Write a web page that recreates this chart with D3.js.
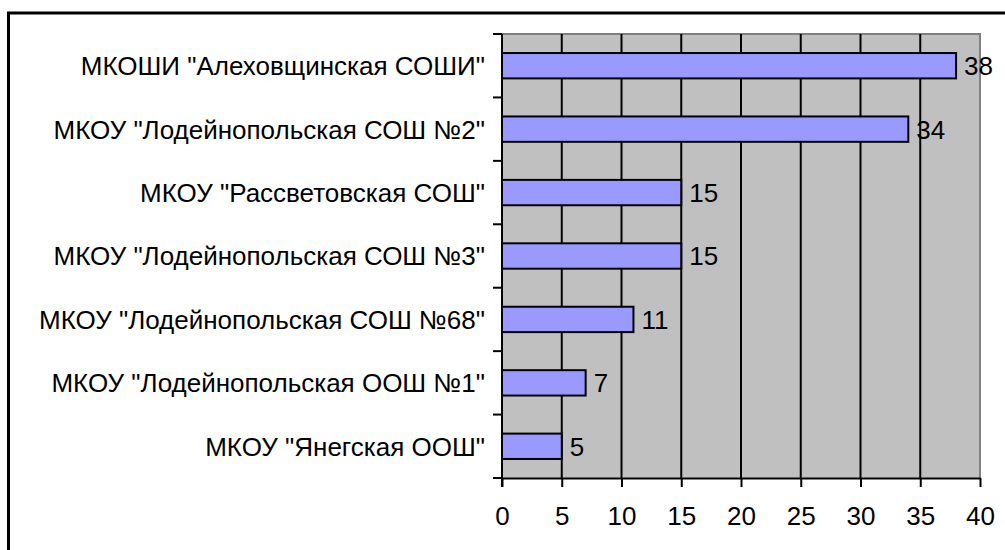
<!DOCTYPE html>
<html><head><meta charset="utf-8">
<script src="https://cdn.jsdelivr.net/npm/d3@7"></script>
<style>
html,body{margin:0;padding:0;background:#fff;}
svg{display:block;}
text{font-family:"Liberation Sans",Arial,sans-serif;fill:#000;}
</style></head>
<body>
<svg id="c" width="1005" height="550"></svg>
<script>
const categories = [
  'МКОШИ "Алеховщинская СОШИ"',
  'МКОУ "Лодейнопольская СОШ №2"',
  'МКОУ "Рассветовская СОШ"',
  'МКОУ "Лодейнопольская СОШ №3"',
  'МКОУ "Лодейнопольская СОШ №68"',
  'МКОУ "Лодейнопольская ООШ №1"',
  'МКОУ "Янегская ООШ"'
];
const values = [38, 34, 15, 15, 11, 7, 5];
const xTicks = [0, 5, 10, 15, 20, 25, 30, 35, 40];

const svg = d3.select("#c");
const L = 502, R = 980, T = 34, B = 478;
const fs = 26;

// outer frame
svg.append("rect").attr("x", 8.5).attr("y", 13).attr("width", 1010).attr("height", 560)
  .attr("fill", "none").attr("stroke", "#000").attr("stroke-width", 3);

const x = d3.scaleLinear().domain([0, 40]).range([L, R]);
const y = d3.scaleBand().domain(categories).range([T, B]).paddingInner(0.6).paddingOuter(0.3);
const yb = d3.scaleBand().domain(categories).range([T, B]);

// plot background
svg.append("rect").attr("x", L).attr("y", T).attr("width", R - L).attr("height", B - T)
  .attr("fill", "#C0C0C0");
// top/right gray border
svg.append("path").attr("d", `M${L},${T}H${R}V${B}`).attr("fill", "none")
  .attr("stroke", "#808080").attr("stroke-width", 2);

// grid lines
svg.append("g").selectAll("line").data(xTicks.slice(1, -1)).join("line")
  .attr("x1", d => x(d)).attr("x2", d => x(d)).attr("y1", T).attr("y2", B)
  .attr("stroke", "#000").attr("stroke-width", 2);

// bars
svg.append("g").selectAll("rect").data(values).join("rect")
  .attr("x", x(0)).attr("y", (d, i) => y(categories[i]))
  .attr("width", d => x(d) - x(0)).attr("height", y.bandwidth())
  .attr("fill", "#9999FF").attr("stroke", "#000").attr("stroke-width", 2);

// value labels
svg.append("g").selectAll("text").data(values).join("text")
  .attr("x", d => x(d) + 8).attr("y", (d, i) => y(categories[i]) + y.bandwidth() / 2)
  .attr("dy", "0.36em").attr("font-size", fs).text(d => d);

// x axis
const xa = svg.append("g").attr("transform", `translate(0,${B})`)
  .call(d3.axisBottom(x).tickValues(xTicks).tickSize(9).tickPadding(20).tickSizeOuter(0));
xa.select(".domain").attr("stroke", "#000").attr("stroke-width", 2);
xa.selectAll(".tick line").attr("stroke", "#000").attr("stroke-width", 2);
xa.selectAll(".tick text").attr("font-size", fs).attr("font-family", '"Liberation Sans",Arial,sans-serif');

// y axis line and ticks at band boundaries
svg.append("line").attr("x1", L).attr("x2", L).attr("y1", T).attr("y2", B + 9)
  .attr("stroke", "#000").attr("stroke-width", 2);
const bounds = categories.map(c => yb(c)).concat([B]);
svg.append("g").selectAll("line").data(bounds).join("line")
  .attr("x1", L - 9).attr("x2", L).attr("y1", d => d).attr("y2", d => d)
  .attr("stroke", "#000").attr("stroke-width", 2);

// y labels
svg.append("g").selectAll("text").data(categories).join("text")
  .attr("x", 485).attr("y", d => yb(d) + yb.bandwidth() / 2)
  .attr("dy", "0.36em").attr("text-anchor", "end").attr("font-size", fs).text(d => d);
</script>
</body></html>
